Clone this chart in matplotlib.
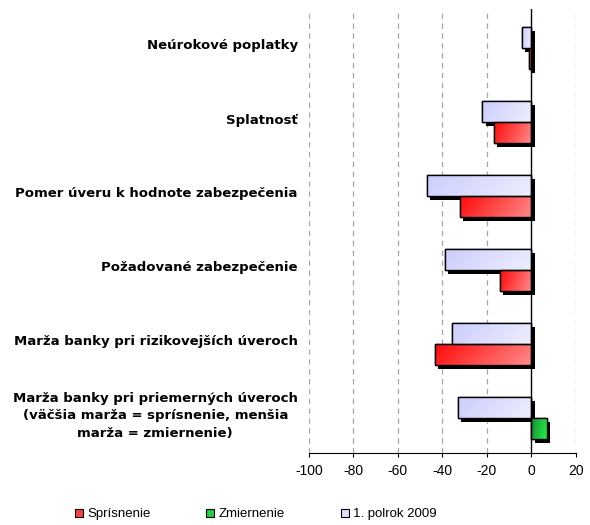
import numpy as np
import matplotlib
matplotlib.use("Agg")
import matplotlib.pyplot as plt
from matplotlib.patches import Rectangle
from matplotlib.lines import Line2D
from matplotlib import patheffects as pe
from matplotlib.colors import to_rgb

plt.rcParams['font.family'] = ['Liberation Sans', 'DejaVu Sans']

categories = [
    "Neúrokové poplatky",
    "Splatnosť",
    "Pomer úveru k hodnote zabezpečenia",
    "Požadované zabezpečenie",
    "Marža banky pri rizikovejších úveroch",
    "Marža banky pri priemerných úveroch\n(väčšia marža = sprísnenie, menšia\nmarža = zmiernenie)",
]
sprisnenie = [-1, -17, -32, -14, -43.5, 0]
zmiernenie = [0, 0, 0, 0, 0, 7]
polrok_2009 = [-4.4, -22, -47, -38.7, -35.7, -33.2]
xticks = [-100, -80, -60, -40, -20, 0, 20]

fig = plt.figure(figsize=(5.9, 5.25), dpi=100)
ax = fig.add_axes([308.8 / 590, 1 - 453 / 525, (576 - 308.8) / 590, (453 - 9) / 525])
ax.set_xlim(-100, 20)
ax.set_ylim(5.5, -0.5)

h = 0.285
off = 0.03

grads = {
    'red': ('#ff0a0a', '#ff8a8a'),
    'green': ('#178a35', '#22f048'),
    'blue': ('#cccdfd', '#eeeefe'),
}


def grad_bar(y0, val, key):
    if val == 0:
        return
    x0 = min(0, val)
    w = abs(val)
    rect = Rectangle((x0, y0), w, h, facecolor=to_rgb(grads[key][1]), edgecolor='black',
                     linewidth=1.0, zorder=3,
                     path_effects=[pe.SimplePatchShadow(offset=(2.3, -2.6), shadow_rgbFace='black', alpha=1.0),
                                   pe.Normal()])
    ax.add_patch(rect)
    c1 = np.array(to_rgb(grads[key][0]))
    c2 = np.array(to_rgb(grads[key][1]))
    n = 32
    xx, yy = np.meshgrid(np.linspace(0, 1, n), np.linspace(0, 1, n))
    t = np.clip(0.8 * xx + 0.2 * yy, 0, 1)
    img = c1[None, None, :] * (1 - t[..., None]) + c2[None, None, :] * t[..., None]
    im = ax.imshow(img, extent=(x0, x0 + w, y0 + h, y0), aspect='auto', zorder=3.5,
                   interpolation='bilinear')
    im.set_clip_path(rect)
    edge = Rectangle((x0, y0), w, h, facecolor='none', edgecolor='black', linewidth=1.0, zorder=3.6)
    ax.add_patch(edge)


for i in range(len(categories)):
    grad_bar(i + off - h, polrok_2009[i], 'blue')
    grad_bar(i + off, sprisnenie[i], 'red')
    grad_bar(i + off, zmiernenie[i], 'green')

ax.set_aspect('auto')
ax.set_xlim(-100, 20)
ax.set_ylim(5.5, -0.5)

for x in xticks:
    if x == 0:
        ax.axvline(0, color='black', linewidth=1.0, zorder=4)
    else:
        ax.axvline(x, color='#a6a6a6', linewidth=0.9, linestyle=(0, (4.3, 3.6)), zorder=1)

ax.set_xticks(xticks)
ax.set_xticklabels([str(x) for x in xticks], fontsize=10)
ax.tick_params(axis='x', direction='out', length=3, width=0.8, pad=5)
ax.set_yticks(range(len(categories)))
ax.set_yticklabels(categories, fontsize=9.5, fontweight='bold', multialignment='center',
                   family=['DejaVu Sans'], linespacing=1.42)
ax.tick_params(axis='y', length=0, pad=8)
for lbl in ax.get_yticklabels():
    lbl.set_verticalalignment('center')
for s in ['top', 'right', 'left']:
    ax.spines[s].set_visible(False)
ax.spines['bottom'].set_linewidth(0.8)

handles = [
    Line2D([], [], linestyle='none', marker='s', markersize=5.5, markerfacecolor='#ff4040', markeredgecolor='black', markeredgewidth=0.8),
    Line2D([], [], linestyle='none', marker='s', markersize=5.5, markerfacecolor='#20d040', markeredgecolor='black', markeredgewidth=0.8),
    Line2D([], [], linestyle='none', marker='s', markersize=5.5, markerfacecolor='#dcdcfc', markeredgecolor='black', markeredgewidth=0.8),
]
fig.legend(handles, ["Sprísnenie", "Zmiernenie", "1. polrok 2009"], loc='center',
           bbox_to_anchor=(256 / 590, 1 - 514 / 525), ncol=3, frameon=False, fontsize=9.5,
           handlelength=0.6, handletextpad=0.35, columnspacing=4.2, borderpad=0)

fig.savefig("out.png", dpi=100)
